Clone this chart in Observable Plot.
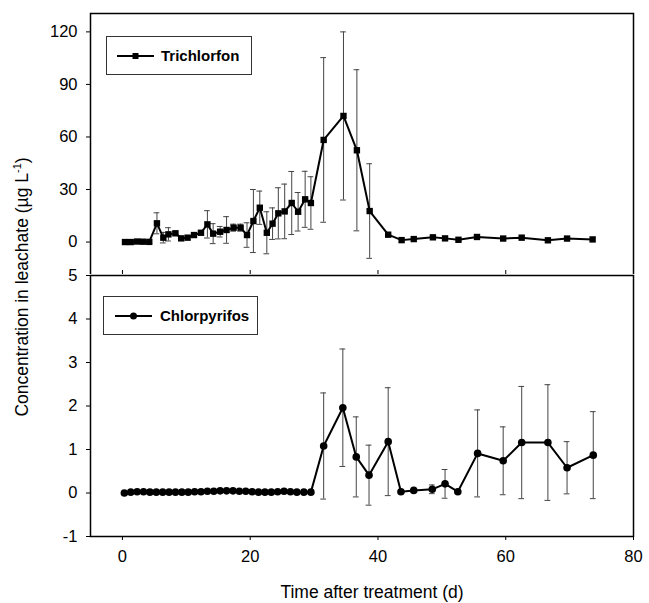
<!DOCTYPE html>
<html>
<head>
<meta charset="utf-8">
<script src="https://cdn.jsdelivr.net/npm/d3@7"></script>
<script src="https://cdn.jsdelivr.net/npm/@observablehq/plot@0.6"></script>
<style>
  body { margin: 0; background: #fff; }
  #wrap { position: relative; width: 649px; height: 603px; font-family: "Liberation Sans", Arial, sans-serif; color: #000; }
  #top, #bot { position: absolute; left: 0; }
  #top { top: 0; }
  #bot { top: 274px; }
  .legend { position: absolute; background: #fff; border: 1px solid #333; box-sizing: border-box; }
  .legend svg { position: absolute; left: 0; top: 0; }
  .legend span { position: absolute; font-weight: bold; font-size: 15px; }
  #ytitle { position: absolute; left: 22px; top: 287px; transform: translate(-50%, -50%) rotate(-90deg); white-space: nowrap; font-size: 17.5px; }
  #xtitle { position: absolute; left: 372px; top: 592px; transform: translate(-50%, -50%); white-space: nowrap; font-size: 17.5px; }
  sup { font-size: 11px; }
</style>
</head>
<body>
<div id="wrap">
  <div id="top"></div>
  <div id="bot"></div>
  <div class="legend" style="left:106px; top:36px; width:146px; height:39px;">
    <svg width="146" height="39"><line x1="10" x2="47" y1="19" y2="19" stroke="#000" stroke-width="2"/><rect x="25.5" y="16" width="6" height="6" fill="#000"/></svg>
    <span style="left:54px; top:10px;">Trichlorfon</span>
  </div>
  <div class="legend" style="left:103px; top:296px; width:155px; height:39px;">
    <svg width="155" height="39"><line x1="11" x2="48" y1="19" y2="19" stroke="#000" stroke-width="2"/><circle cx="29.5" cy="19" r="3.5" fill="#000"/></svg>
    <span style="left:56px; top:10px;">Chlorpyrifos</span>
  </div>
  <div id="ytitle">Concentration in leachate (µg L<sup>-1</sup>)</div>
  <div id="xtitle">Time after treatment (d)</div>
</div>
<script>
// ---- Data ----
const xTicks = [0, 20, 40, 60, 80];
const triTicks = [0, 30, 60, 90, 120];
const chlTicks = [-1, 0, 1, 2, 3, 4, 5];

const triDays = [0.4, 1.3, 2.3, 3.2, 4.2, 5.4, 6.4, 7.2, 8.3, 9.2, 10.2, 11.2, 12.3, 13.3, 14.2, 15.3, 16.3, 17.4, 18.5, 19.5, 20.5, 21.5, 22.6, 23.5, 24.4, 25.4, 26.5, 27.5, 28.6, 29.5, 31.5, 34.6, 36.7, 38.7, 41.6, 43.7, 45.6, 48.6, 50.5, 52.6, 55.5, 59.6, 62.5, 66.6, 69.6, 73.6];
const triConc = [0, 0, 0.3, 0.2, 0.1, 10.7, 2.5, 4.4, 5, 2.1, 2.5, 4, 5.3, 10.1, 4.8, 5.9, 6.9, 8.2, 8.2, 4, 12, 19.6, 5.3, 10.5, 16.4, 17.5, 22.3, 17.3, 24.4, 22.3, 58.3, 72, 52.4, 17.7, 4.2, 1.1, 1.7, 2.7, 2.1, 1.3, 2.9, 2, 2.5, 1, 2, 1.5];
const triErr = [0, 0, 0, 0, 0, 6, 3, 3.8, 1, 0, 0, 0, 1, 7.8, 5.7, 3, 7.6, 2, 2, 7, 18, 9.5, 12, 9, 14.6, 15.6, 18, 11, 16, 15, 47, 48, 46, 27, 0, 0, 0, 0, 0, 0, 0, 0, 0, 0, 0, 0];

const chlDays = [0.3, 1.3, 2.3, 3.3, 4.3, 5.3, 6.3, 7.3, 8.3, 9.3, 10.3, 11.3, 12.3, 13.3, 14.3, 15.3, 16.3, 17.3, 18.3, 19.3, 20.3, 21.3, 22.3, 23.3, 24.3, 25.3, 26.3, 27.3, 28.4, 29.5, 31.5, 34.5, 36.6, 38.6, 41.6, 43.6, 45.6, 48.5, 50.5, 52.5, 55.6, 59.6, 62.5, 66.6, 69.6, 73.7];
const chlConc = [0, 0.02, 0.03, 0.03, 0.02, 0.02, 0.02, 0.02, 0.02, 0.02, 0.02, 0.03, 0.03, 0.04, 0.04, 0.05, 0.05, 0.05, 0.04, 0.04, 0.03, 0.02, 0.02, 0.02, 0.03, 0.04, 0.03, 0.02, 0.02, 0.02, 1.08, 1.96, 0.83, 0.41, 1.18, 0.03, 0.06, 0.085, 0.21, 0.03, 0.91, 0.74, 1.16, 1.16, 0.58, 0.87];
const chlErr = [0, 0, 0, 0, 0, 0, 0, 0, 0, 0, 0, 0, 0, 0, 0, 0, 0, 0, 0, 0, 0, 0, 0, 0, 0, 0, 0, 0, 0, 0, 1.22, 1.35, 0.92, 0.69, 1.24, 0, 0, 0.1, 0.33, 0, 1.0, 0.78, 1.29, 1.33, 0.6, 1.0];

const tri = triDays.map((x, i) => ({x, v: triConc[i], e: triErr[i]}));
const chl = chlDays.map((x, i) => ({x, v: chlConc[i], e: chlErr[i]}));

const font = {fontFamily: "'Liberation Sans', Arial, sans-serif", fontSize: "16.5px", color: "#000", background: "#fff", overflow: "visible"};
const xDomain = [-5, 80];
const triDomain = [-19.1, 130.5];
const chlDomain = [-1, 5];
const capHalf = 0.45;
const fmt = d => String(d);

function errMarks(data) {
  const d = data.filter(p => p.e > 0);
  return [
    Plot.ruleX(d, {x: "x", y1: p => p.v - p.e, y2: p => p.v + p.e, stroke: "#444", strokeWidth: 1}),
    Plot.ruleY(d, {y: p => p.v + p.e, x1: p => p.x - capHalf, x2: p => p.x + capHalf, stroke: "#444", strokeWidth: 1}),
    Plot.ruleY(d, {y: p => p.v - p.e, x1: p => p.x - capHalf, x2: p => p.x + capHalf, stroke: "#444", strokeWidth: 1})
  ];
}

const topPlot = Plot.plot({
  width: 649, height: 275,
  marginTop: 13, marginBottom: 0, marginLeft: 90, marginRight: 16,
  style: font,
  x: {domain: xDomain, axis: null},
  y: {domain: triDomain},
  marks: [
    Plot.axisY(triTicks, {tickSize: 4, tickPadding: 9, label: null, tickFormat: fmt}),
    Plot.ruleX(xTicks, {y1: triDomain[0], y2: triDomain[0] + 5 / 1.75, stroke: "#000"}),
    ...errMarks(tri),
    Plot.line(tri, {x: "x", y: "v", stroke: "#000", strokeWidth: 2}),
    Plot.dot(tri, {x: "x", y: "v", symbol: "square", r: 3.6, fill: "#000", stroke: "none"}),
    Plot.frame({stroke: "#000", strokeWidth: 1.5})
  ]
});
document.getElementById("top").appendChild(topPlot);

const botPlot = Plot.plot({
  width: 649, height: 329,
  marginTop: 1, marginBottom: 67, marginLeft: 90, marginRight: 16,
  style: font,
  x: {domain: xDomain},
  y: {domain: chlDomain},
  marks: [
    Plot.axisY(chlTicks, {tickSize: 4, tickPadding: 9, label: null, tickFormat: fmt}),
    Plot.axisX(xTicks, {tickSize: 4, tickPadding: 10, label: null, tickFormat: fmt}),
    ...errMarks(chl),
    Plot.line(chl, {x: "x", y: "v", stroke: "#000", strokeWidth: 2}),
    Plot.dot(chl, {x: "x", y: "v", r: 3.8, fill: "#000", stroke: "none"}),
    Plot.frame({stroke: "#000", strokeWidth: 1.5})
  ]
});
document.getElementById("bot").appendChild(botPlot);
</script>
</body>
</html>
